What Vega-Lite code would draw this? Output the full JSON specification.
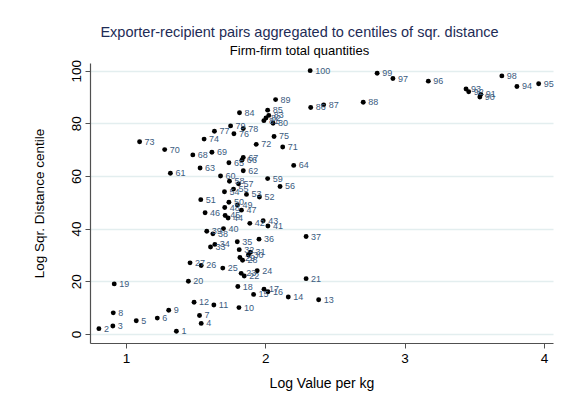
{
  "$schema": "https://vega.github.io/schema/vega-lite/v6.json",
  "width": 463,
  "height": 280,
  "autosize": {"type": "none"},
  "padding": {"left": 90, "top": 63, "right": 10, "bottom": 68},
  "background": "white",
  "config": {
    "font": "Liberation Sans",
    "view": {"stroke": null}
  },
  "title": {
    "text": "Exporter-recipient pairs aggregated to centiles of sqr. distance",
    "subtitle": "Firm-firm total quantities",
    "fontSize": 14.5,
    "fontWeight": "normal",
    "color": "#1e2c56",
    "subtitleFontSize": 13,
    "subtitleColor": "#000000",
    "subtitlePadding": 5,
    "offset": 0,
    "anchor": "middle",
    "frame": "group",
    "dx": -22
  },
  "data": {
    "values": [
      {"centile": 1, "logv": 1.362}, {"centile": 2, "logv": 0.806}, {"centile": 3, "logv": 0.906},
      {"centile": 4, "logv": 1.540}, {"centile": 5, "logv": 1.074}, {"centile": 6, "logv": 1.225},
      {"centile": 7, "logv": 1.528}, {"centile": 8, "logv": 0.909}, {"centile": 9, "logv": 1.307},
      {"centile": 10, "logv": 1.811}, {"centile": 11, "logv": 1.631}, {"centile": 12, "logv": 1.489},
      {"centile": 13, "logv": 2.383}, {"centile": 14, "logv": 2.165}, {"centile": 15, "logv": 1.916},
      {"centile": 16, "logv": 2.019}, {"centile": 17, "logv": 1.991}, {"centile": 18, "logv": 1.803},
      {"centile": 19, "logv": 0.916}, {"centile": 20, "logv": 1.448}, {"centile": 21, "logv": 2.293},
      {"centile": 22, "logv": 1.849}, {"centile": 23, "logv": 1.827}, {"centile": 24, "logv": 1.942},
      {"centile": 25, "logv": 1.695}, {"centile": 26, "logv": 1.540}, {"centile": 27, "logv": 1.460},
      {"centile": 28, "logv": 1.837}, {"centile": 29, "logv": 1.818}, {"centile": 30, "logv": 1.879},
      {"centile": 31, "logv": 1.894}, {"centile": 32, "logv": 1.813}, {"centile": 33, "logv": 1.607},
      {"centile": 34, "logv": 1.638}, {"centile": 35, "logv": 1.799}, {"centile": 36, "logv": 1.955},
      {"centile": 37, "logv": 2.293}, {"centile": 38, "logv": 1.624}, {"centile": 39, "logv": 1.580},
      {"centile": 40, "logv": 1.700}, {"centile": 41, "logv": 2.019}, {"centile": 42, "logv": 1.889},
      {"centile": 43, "logv": 1.985}, {"centile": 44, "logv": 1.733}, {"centile": 45, "logv": 1.712},
      {"centile": 46, "logv": 1.568}, {"centile": 47, "logv": 1.829}, {"centile": 48, "logv": 1.709},
      {"centile": 49, "logv": 1.800}, {"centile": 50, "logv": 1.739}, {"centile": 51, "logv": 1.537},
      {"centile": 52, "logv": 1.958}, {"centile": 53, "logv": 1.865}, {"centile": 54, "logv": 1.707},
      {"centile": 55, "logv": 1.772}, {"centile": 56, "logv": 2.106}, {"centile": 57, "logv": 1.808},
      {"centile": 58, "logv": 1.743}, {"centile": 59, "logv": 2.017}, {"centile": 60, "logv": 1.679},
      {"centile": 61, "logv": 1.319}, {"centile": 62, "logv": 1.842}, {"centile": 63, "logv": 1.532},
      {"centile": 64, "logv": 2.204}, {"centile": 65, "logv": 1.739}, {"centile": 66, "logv": 1.832},
      {"centile": 67, "logv": 1.842}, {"centile": 68, "logv": 1.480}, {"centile": 69, "logv": 1.617},
      {"centile": 70, "logv": 1.278}, {"centile": 71, "logv": 2.125}, {"centile": 72, "logv": 1.935},
      {"centile": 73, "logv": 1.098}, {"centile": 74, "logv": 1.561}, {"centile": 75, "logv": 2.063},
      {"centile": 76, "logv": 1.775}, {"centile": 77, "logv": 1.635}, {"centile": 78, "logv": 1.842},
      {"centile": 79, "logv": 1.751}, {"centile": 80, "logv": 2.056}, {"centile": 81, "logv": 1.990},
      {"centile": 82, "logv": 2.005}, {"centile": 83, "logv": 2.025}, {"centile": 84, "logv": 1.815},
      {"centile": 85, "logv": 2.017}, {"centile": 86, "logv": 2.326}, {"centile": 87, "logv": 2.419},
      {"centile": 88, "logv": 2.703}, {"centile": 89, "logv": 2.074}, {"centile": 90, "logv": 3.540},
      {"centile": 91, "logv": 3.547}, {"centile": 92, "logv": 3.460}, {"centile": 93, "logv": 3.441},
      {"centile": 94, "logv": 3.806}, {"centile": 95, "logv": 3.962}, {"centile": 96, "logv": 3.170},
      {"centile": 97, "logv": 2.916}, {"centile": 98, "logv": 3.698}, {"centile": 99, "logv": 2.803},
      {"centile": 100, "logv": 2.322}
    ]
  },
  "encoding": {
    "x": {
      "field": "logv",
      "type": "quantitative",
      "scale": {"domain": [0.742, 4.065], "nice": false, "zero": false},
      "axis": {
        "title": "Log Value per kg",
        "values": [1, 2, 3, 4],
        "format": "d",
        "grid": false,
        "domainColor": "#505050",
        "domainWidth": 1.2,
        "tickColor": "#505050",
        "tickSize": 5,
        "labelFontSize": 13.5,
        "labelColor": "#000000",
        "labelPadding": 3,
        "titleFontSize": 14,
        "titleFontWeight": "normal",
        "titleColor": "#000000",
        "titlePadding": 12
      }
    },
    "y": {
      "field": "centile",
      "type": "quantitative",
      "scale": {"domain": [-3.45, 102.9], "nice": false, "zero": false},
      "axis": {
        "title": "Log Sqr. Distance centile",
        "values": [0, 20, 40, 60, 80, 100],
        "format": "d",
        "grid": true,
        "gridColor": "#e3eeef",
        "gridWidth": 1.3,
        "domainColor": "#505050",
        "domainWidth": 1.2,
        "tickColor": "#505050",
        "tickSize": 5,
        "labelAngle": -90,
        "labelAlign": "center",
        "labelBaseline": "bottom",
        "labelFontSize": 13.5,
        "labelColor": "#000000",
        "labelPadding": 2,
        "titleFontSize": 13.5,
        "titleFontWeight": "normal",
        "titleColor": "#000000",
        "titlePadding": 23
      }
    }
  },
  "layer": [
    {
      "mark": {"type": "circle", "size": 24, "color": "#000000", "opacity": 1}
    },
    {
      "mark": {"type": "text", "align": "left", "baseline": "middle", "dx": 5, "fontSize": 9, "color": "#3b5b80"},
      "encoding": {"text": {"field": "centile", "type": "quantitative"}}
    }
  ]
}
